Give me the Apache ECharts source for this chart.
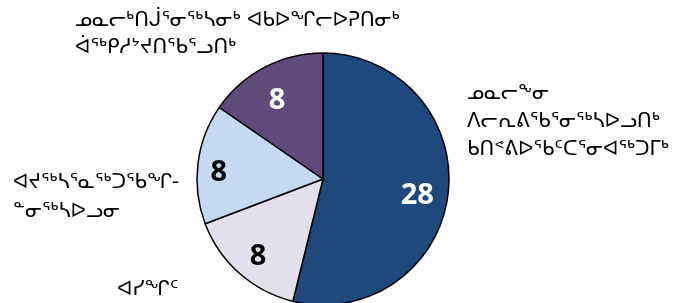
<!DOCTYPE html>
<html>
<head>
<meta charset="utf-8">
<script src="https://cdn.jsdelivr.net/npm/echarts@6/dist/echarts.min.js"></script>
<style>
  html, body { margin: 0; padding: 0; background: #fff; }
  #chart { width: 678px; height: 303px; }
</style>
</head>
<body>
<div id="chart"></div>
<script>
// categories, clockwise from 12 o'clock
const categories = [
  'ᓄᓇᓕᖕᓂ\nᐱᓕᕆᕕᖃᕐᓂᖅᓴᐅᓗᑎᒃ\nᑲᑎᕝᕕᐅᖃᑦᑕᕐᓂᐊᖅᑐᒥᒃ',
  'ᐊᓯᖏᑦ',
  'ᐊᔪᖅᓴᕐᓇᖅᑐᖃᖏ-\nᓐᓂᖅᓴᐅᓗᓂ',
  'ᓄᓇᓕᒃᑎᒎᕐᓂᖅᓴᓂᒃ ᐊᑲᐅᖏᓕᐅᕈᑎᓂᒃ\nᐋᖅᑭᓱᔾᔪᑎᖃᕐᓗᑎᒃ'
]
const values = [28, 8, 8, 8]
const colors = ['#1f497d', '#e4dfec', '#c5d9f1', '#604a7b']
const valueColors = ['#ffffff', '#000000', '#000000', '#ffffff']

// where each category name sits (top-left of the text block)
const namePos = [
  { x: 467, y: 80, lh: 28 },
  { x: 117, y: 276, lh: 28 },
  { x: 13, y: 168, lh: 29 },
  { x: 75, y: 7, lh: 27 }
]
// small nudges for the value labels inside the slices
const valueNudge = [[-6, 5], [2, 2], [-4, 6], [1, 11]]

const chart = echarts.init(document.getElementById('chart'))

const option = {
  animation: false,
  series: [
    {
      name: 'slices',
      type: 'pie',
      center: [323, 179],
      radius: 126,
      startAngle: 90,
      clockwise: true,
      silent: true,
      itemStyle: { borderColor: '#000', borderWidth: 1.5 },
      label: {
        show: true,
        position: 'outside',
        formatter: '{b}',
        fontFamily: 'DejaVu Sans',
        fontSize: 20,
        color: '#000',
        align: 'left',
        overflow: 'none'
      },
      labelLine: { show: false },
      labelLayout: (p) => {
        const pos = namePos[p.dataIndex]
        return { x: pos.x, y: pos.y, align: 'left', verticalAlign: 'top' }
      },
      data: categories.map((c, i) => ({
        name: c,
        value: values[i],
        itemStyle: { color: colors[i] },
        label: { lineHeight: namePos[i].lh }
      }))
    },
    {
      name: 'values',
      type: 'pie',
      center: [323, 179],
      radius: [70, 126],
      startAngle: 90,
      clockwise: true,
      silent: true,
      itemStyle: { color: 'transparent', borderWidth: 0 },
      label: {
        show: true,
        position: 'inside',
        formatter: '{c}',
        fontFamily: 'Open Sans',
        fontWeight: 'bold',
        fontSize: 29
      },
      labelLine: { show: false },
      labelLayout: (p) => {
        const n = valueNudge[p.dataIndex]
        return { dx: n[0], dy: n[1] }
      },
      data: values.map((v, i) => ({
        name: categories[i],
        value: v,
        label: { color: valueColors[i] }
      }))
    }
  ]
}

chart.setOption(option)
</script>
</body>
</html>
